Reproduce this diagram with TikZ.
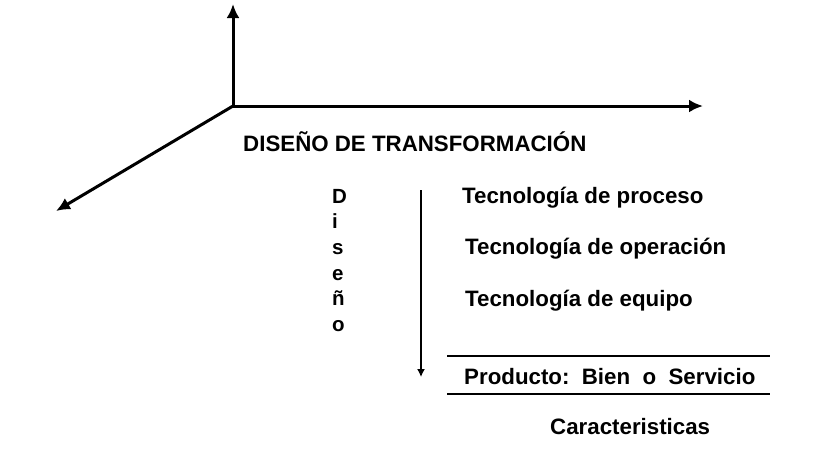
\documentclass[tikz,border=0pt]{standalone}
\usepackage{fontspec}
\setmainfont{Liberation Sans}
\usetikzlibrary{arrows.meta}
\def\txtfont{\fontsize{22.3}{25}\selectfont\bfseries}
\def\colfont{\fontsize{20.5}{24}\selectfont\bfseries}

\begin{document}
\begin{tikzpicture}[x=1pt,y=-1pt,
    axis/.style={line width=3pt,-{Latex[length=14pt,width=13pt]}},
    flow/.style={line width=1.4pt,-{Latex[length=8pt,width=8pt]}},
    rule/.style={line width=1.2pt},
    lbl/.style={anchor=base west,inner sep=0pt,font=\txtfont}]
    \useasboundingbox (0,0) rectangle (824,451);
    \coordinate (origen) at (233,106);
    \coordinate (ejeY) at (233,4);
    \coordinate (ejeX) at (703,106);
    \coordinate (ejeZ) at (56,211);
    \draw[axis] (origen) -- (ejeY);
    \draw[axis] (origen) -- (ejeX);
    \draw[axis] (origen) -- (ejeZ);
    \node[lbl] (titulo) at (243,151) {DISEÑO DE TRANSFORMACIÓN};
    \foreach \letra [count=\i] in {D,i,s,e,ñ,o}
        \node[lbl,font=\colfont] (col\i) at (332,{203+25.7*(\i-1)}) {\letra};
    \coordinate (flujoA) at (421,190);
    \coordinate (flujoB) at (421,377);
    \draw[flow] (flujoA) -- (flujoB);
    \node[lbl] (proceso) at (462,203) {Tecnología de proceso};
    \node[lbl] (operacion) at (465,254) {Tecnología de operación};
    \node[lbl] (equipo) at (465,306) {Tecnología de equipo};
    \coordinate (ruleAw) at (447,356);
    \coordinate (ruleAe) at (770,356);
    \coordinate (ruleBw) at (447,394);
    \coordinate (ruleBe) at (770,394);
    \draw[rule] (ruleAw) -- (ruleAe);
    \draw[rule] (ruleBw) -- (ruleBe);
    \node[lbl] (producto) at (464,384) {Producto:\ \ Bien\ \ o\ \ Servicio};
    \node[lbl] (caract) at (550,434) {Caracteristicas};
\end{tikzpicture}
\end{document}
